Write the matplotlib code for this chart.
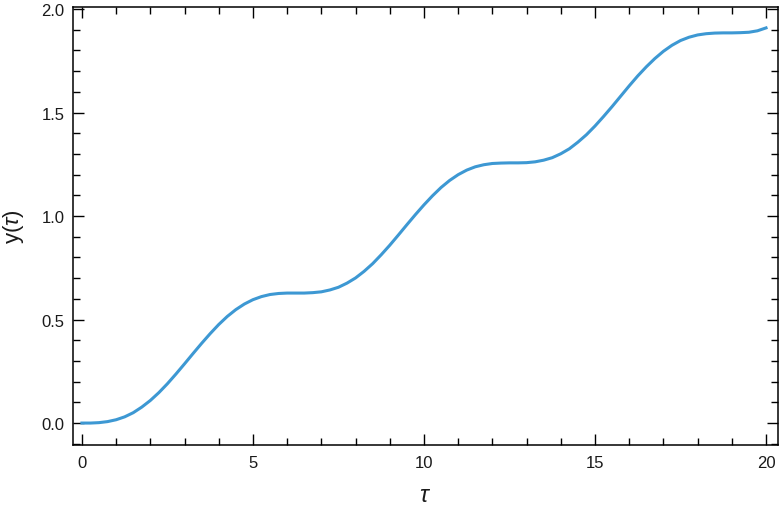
import matplotlib
matplotlib.use("Agg")
import matplotlib.pyplot as plt
from matplotlib.ticker import MultipleLocator

# curve, tau step 0.25
tau = [i * 0.25 for i in range(81)]
y = [0.000, 0.000, 0.002, 0.007, 0.016, 0.030, 0.050, 0.077, 0.109, 0.147,
     0.190, 0.237, 0.286, 0.336, 0.385, 0.432, 0.476, 0.515, 0.548, 0.575,
     0.596, 0.611, 0.621, 0.626, 0.628, 0.628, 0.628, 0.630, 0.634, 0.643,
     0.656, 0.676, 0.701, 0.733, 0.770, 0.813, 0.859, 0.908, 0.958, 1.007,
     1.054, 1.098, 1.138, 1.172, 1.200, 1.222, 1.238, 1.248, 1.254, 1.256,
     1.257, 1.257, 1.258, 1.262, 1.270, 1.282, 1.301, 1.325, 1.357, 1.393,
     1.435, 1.481, 1.529, 1.579, 1.629, 1.677, 1.721, 1.761, 1.796, 1.825,
     1.848, 1.864, 1.875, 1.881, 1.884, 1.885, 1.885, 1.886, 1.888, 1.895,
     1.909]

plt.rcParams['font.family'] = ['Liberation Sans', 'DejaVu Sans']
plt.rcParams['mathtext.fontset'] = 'custom'
plt.rcParams['mathtext.it'] = 'Liberation Sans:italic'
plt.rcParams['mathtext.rm'] = 'Liberation Sans'

fig = plt.figure(figsize=(7.8, 5.1), dpi=100)
ax = fig.add_axes([73 / 780, 1 - 446 / 510, 705 / 780, 438 / 510])

ax.plot(tau, y, color='#3d98d3', lw=2.2)

ax.set_xlim(-0.26, 20.35)
ax.set_ylim(-0.106, 2.01)
ax.xaxis.set_major_locator(MultipleLocator(5))
ax.xaxis.set_minor_locator(MultipleLocator(1))
ax.yaxis.set_major_locator(MultipleLocator(0.5))
ax.yaxis.set_minor_locator(MultipleLocator(0.1))
ax.tick_params(which='both', direction='in', top=True, right=True,
               labelsize=12, width=1, color='black', labelcolor='#1a1a1a')
ax.tick_params(axis='x', pad=7)
ax.tick_params(axis='y', pad=6)
ax.tick_params(which='major', length=8)
ax.tick_params(which='minor', length=5)
for s in ax.spines.values():
    s.set_linewidth(1.1)
    s.set_color('black')

ax.set_xlabel(r'$\tau$', fontsize=17, labelpad=10, color='#1a1a1a')
ax.set_ylabel(r'y($\tau$)', fontsize=16, labelpad=11, color='#1a1a1a')

fig.savefig('out.png', dpi=100)
